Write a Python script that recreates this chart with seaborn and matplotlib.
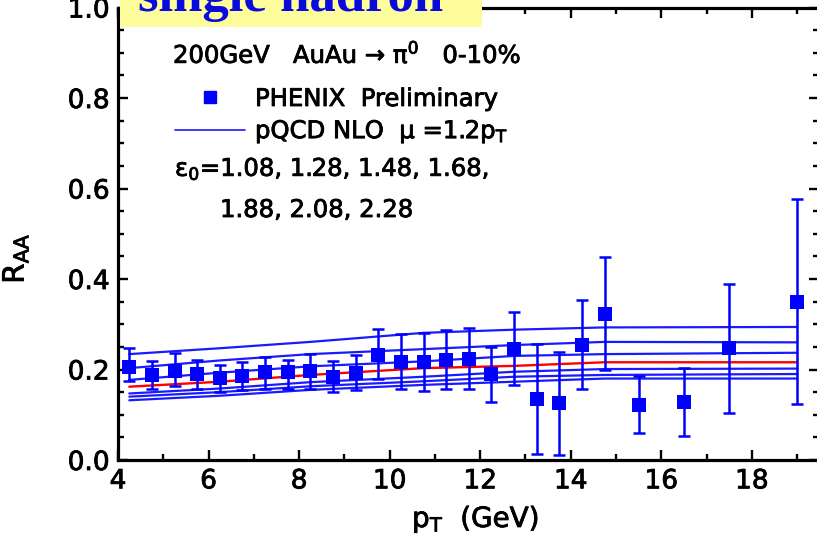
import numpy as np
import pandas as pd
import matplotlib
matplotlib.use("Agg")
import matplotlib.pyplot as plt
import matplotlib.patheffects as pe
from matplotlib.lines import Line2D
from matplotlib.patches import Rectangle
from matplotlib.ticker import MultipleLocator
import seaborn as sns

# ---------------- data ----------------
pt = [4.25, 4.75, 5.25, 5.75, 6.25, 6.75, 7.25, 7.75, 8.25, 8.75, 9.25, 9.75,
      10.25, 10.75, 11.25, 11.75, 12.25, 12.75, 13.25, 13.75, 14.25, 14.75,
      15.5, 16.5, 17.5, 19.0]
raa = [0.206, 0.188, 0.197, 0.190, 0.182, 0.186, 0.194, 0.195, 0.197, 0.184,
       0.193, 0.232, 0.217, 0.217, 0.222, 0.223, 0.190, 0.245, 0.135, 0.125,
       0.254, 0.323, 0.122, 0.129, 0.247, 0.350]
raa_hi = [0.248, 0.219, 0.236, 0.222, 0.211, 0.217, 0.227, 0.222, 0.234, 0.219,
          0.232, 0.290, 0.278, 0.280, 0.287, 0.291, 0.249, 0.326, 0.256, 0.238,
          0.354, 0.448, 0.186, 0.204, 0.390, 0.577]
raa_lo = [0.175, 0.156, 0.164, 0.156, 0.151, 0.155, 0.158, 0.158, 0.158, 0.150,
          0.155, 0.180, 0.157, 0.152, 0.157, 0.156, 0.129, 0.166, 0.013, 0.012,
          0.158, 0.200, 0.059, 0.054, 0.103, 0.124]

theory_pt = [4.25, 6.25, 8.25, 10.75, 12.75, 14.75, 19.0]
eps_values = ["1.08", "1.28", "1.48", "1.68", "1.88", "2.08", "2.28"]
theory_108 = [0.234, 0.247, 0.261, 0.281, 0.288, 0.293, 0.294]
theory_128 = [0.203, 0.220, 0.234, 0.245, 0.254, 0.261, 0.260]
theory_148 = [0.177, 0.193, 0.207, 0.218, 0.230, 0.234, 0.237]
theory_168 = [0.162, 0.173, 0.188, 0.203, 0.208, 0.216, 0.216]
theory_188 = [0.147, 0.158, 0.172, 0.184, 0.195, 0.201, 0.202]
theory_208 = [0.140, 0.150, 0.163, 0.174, 0.184, 0.188, 0.190]
theory_228 = [0.132, 0.142, 0.155, 0.166, 0.173, 0.180, 0.180]
theory_curves = [theory_108, theory_128, theory_148, theory_168,
                 theory_188, theory_208, theory_228]

x_ticks = [4, 6, 8, 10, 12, 14, 16, 18]
y_ticks = [0.0, 0.2, 0.4, 0.6, 0.8, 1.0]

# ---------------- style ----------------
sns.set_style("ticks")
plt.rcParams["font.family"] = ["DejaVu Sans"]
plt.rcParams["mathtext.fontset"] = "dejavusans"
for k in ["text.color", "axes.labelcolor", "xtick.color", "ytick.color",
          "axes.edgecolor"]:
    plt.rcParams[k] = "black"

BLUE = "#0000ff"
LINEBLUE = "#1a1aff"
RED = "#ff0000"
HEAVY = [pe.withStroke(linewidth=0.6, foreground="black")]

W, H = 817, 538
fig = plt.figure(figsize=(W / 100, H / 100), dpi=100)
ax_l, ax_r, ax_b, ax_t = 118, 819, 460, 7.5
ax = fig.add_axes([ax_l / W, 1 - ax_b / H, (ax_r - ax_l) / W, (ax_b - ax_t) / H])

# theory curves
rows = []
for e, vals in zip(eps_values, theory_curves):
    for x, y in zip(theory_pt, vals):
        rows.append({"pt": x, "raa": y, "eps": e})
df_th = pd.DataFrame(rows)
palette = {e: (RED if e == "1.68" else LINEBLUE) for e in eps_values}
sns.lineplot(data=df_th[df_th.eps != "1.68"], x="pt", y="raa", hue="eps",
             palette=palette, estimator=None, sort=False, legend=False,
             lw=1.6, ax=ax, zorder=2)
sns.lineplot(data=df_th[df_th.eps == "1.68"], x="pt", y="raa", hue="eps",
             palette=palette, estimator=None, sort=False, legend=False,
             lw=1.7, ax=ax, zorder=2.5)

# data points
pt_a = np.array(pt)
raa_a = np.array(raa)
yerr = [raa_a - np.array(raa_lo), np.array(raa_hi) - raa_a]
ax.errorbar(pt_a, raa_a, yerr=yerr, fmt="none", ecolor=BLUE, elinewidth=1.8,
            capsize=4.5, capthick=1.8, zorder=3)
sns.scatterplot(x=pt, y=raa, marker="s", s=105, color=BLUE, edgecolor=BLUE,
                linewidth=0, ax=ax, zorder=4)

# axes
ax.set_xlim(4, 4 + (ax_r - ax_l) / 45.27)
ax.set_ylim(0, 1.0)
ax.set_xticks(x_ticks)
ax.set_yticks(y_ticks)
ax.set_xticklabels([str(v) for v in x_ticks])
ax.set_yticklabels([f"{v:.1f}" for v in y_ticks])
ax.xaxis.set_minor_locator(MultipleLocator(1))
ax.yaxis.set_minor_locator(MultipleLocator(0.05))
ax.tick_params(which="both", direction="in", top=True, right=True,
               color="black", width=1.7, labelsize=19)
ax.tick_params(which="major", length=7, pad=6)
ax.tick_params(which="minor", length=4)
for s in ax.spines.values():
    s.set_linewidth(2.3)
    s.set_color("black")
for lab in ax.get_xticklabels() + ax.get_yticklabels():
    lab.set_path_effects(HEAVY)

ax.set_xlabel("p$_\\mathrm{T}$  (GeV)", fontsize=20, path_effects=HEAVY)
ax.set_ylabel("R$_\\mathrm{AA}$", fontsize=21, path_effects=HEAVY)
ax.xaxis.set_label_coords(0.51, -0.095)
ax.yaxis.set_label_coords(-0.125, 0.445)


def fx(px):
    return px / W


def fy(py):
    return 1 - py / H


# annotations
fs = 17.5
fig.text(fx(173), fy(63), "200GeV   AuAu → π$^{0}$   0-10%",
         fontsize=fs, va="baseline", ha="left", path_effects=HEAVY)
fig.text(fx(175), fy(176), "ε$_{0}$=1.08, 1.28, 1.48, 1.68,",
         fontsize=fs, va="baseline", ha="left", path_effects=HEAVY)
fig.text(fx(220), fy(217), "1.88, 2.08, 2.28",
         fontsize=fs, va="baseline", ha="left", path_effects=HEAVY)

handles = [
    Line2D([], [], marker="s", ls="none", color=BLUE, markersize=8),
    Line2D([], [], color=LINEBLUE, lw=1.2),
]
labels = ["PHENIX  Preliminary", "pQCD NLO  μ =1.2p$_\\mathrm{T}$"]
fs_px = fs * 100 / 72
leg = ax.legend(handles, labels, loc="upper left",
                bbox_to_anchor=(fx(175), fy(87)), bbox_transform=fig.transFigure,
                frameon=False, fontsize=fs, handlelength=70 / fs_px,
                handletextpad=10 / fs_px, borderpad=0, borderaxespad=0,
                labelspacing=0.3)
for t in leg.get_texts():
    t.set_path_effects(HEAVY)

# title box
fig.patches.append(Rectangle((fx(120), fy(27)), (482 - 120) / W, 27 / H,
                             transform=fig.transFigure, facecolor="#fdfd9c",
                             edgecolor="none", zorder=5))
fig.text(fx(138), fy(11), "single hadron", fontsize=38, fontweight="bold",
         family=["Liberation Serif", "DejaVu Serif"], color="#0a0adc",
         va="baseline", ha="left", zorder=6)

fig.savefig("out.png", dpi=100)
